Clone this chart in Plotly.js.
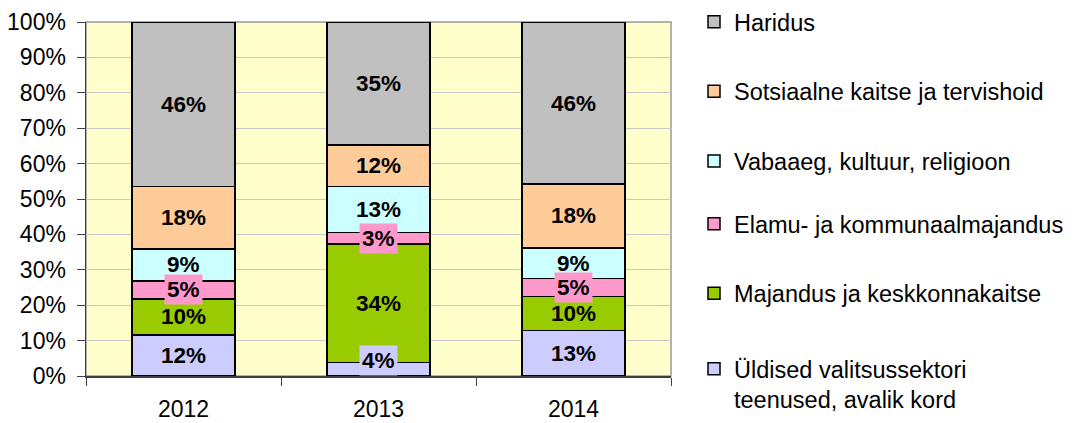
<!DOCTYPE html>
<html>
<head>
<meta charset="utf-8">
<script src="https://cdn.plot.ly/plotly-3.0.1.min.js"></script>
<style>
html,body{margin:0;padding:0;background:#fff;}
#chart{width:1074px;height:423px;}
</style>
</head>
<body>
<div id="chart"></div>
<script>
// Categories (years)
const years = ['2012', '2013', '2014'];

// Series names (bottom to top of stack)
const seriesNames = [
  'Üldised valitsussektori<br>teenused, avalik kord',
  'Majandus ja keskkonnakaitse',
  'Elamu- ja kommunaalmajandus',
  'Vabaaeg, kultuur, religioon',
  'Sotsiaalne kaitse ja tervishoid',
  'Haridus'
];

// Shares (%) per year
const yldised     = [11.6, 3.8, 12.8];
const majandus    = [10.2, 33.5, 9.6];
const elamu       = [5.1, 3.3, 5.2];
const vabaaeg     = [9.0, 12.9, 8.6];
const sotsiaalne  = [17.7, 11.8, 18.0];
const haridus     = [46.4, 34.7, 45.8];

const seriesValues = [yldised, majandus, elamu, vabaaeg, sotsiaalne, haridus];
const seriesColors = ['#CCCCFF', '#99CC00', '#FF99CC', '#CCFFFF', '#FFCC99', '#C0C0C0'];
// which legend box each series is listed in (legend split in parts to avoid scrolling)
const legendOf = ['legend2', 'legend3', 'legend3', 'legend', 'legend', 'legend'];

const yTicks = [0,10,20,30,40,50,60,70,80,90,100];
const yTickText = yTicks.map(v => v + '%');

const traces = seriesValues.map((vals, i) => ({
  type: 'bar',
  name: seriesNames[i],
  x: years,
  y: vals,
  legend: legendOf[i],
  legendgroup: 'g' + i,
  legendrank: seriesValues.length - i,
  marker: {color: seriesColors[i], line: {color: '#000000', width: 1.5}},
  hoverinfo: 'skip'
}));

// Data labels as annotations, centred in each segment
const annotations = [];
const plotH = 354;
const halfBoxPct = 15.5 / plotH * 100;
const cum = [0, 0, 0];
const small = [];
seriesValues.forEach((vals, i) => {
  vals.forEach((v, j) => {
    let yc = cum[j] + v / 2;
    if (yc < halfBoxPct) yc = halfBoxPct;
    const a = {
      x: j, y: yc, xref: 'x', yref: 'y',
      text: '<b>' + Math.round(v) + '%</b>',
      showarrow: false,
      font: {family: 'Liberation Sans, Arial, sans-serif', size: 22.5, color: '#000'},
      borderpad: 2
    };
    if (v < 6) { a.bgcolor = seriesColors[i]; small.push(a); }
    else annotations.push(a);
    cum[j] += v;
  });
});
small.forEach(a => annotations.push(a));

const legendFont = {family: 'Liberation Sans, Arial, sans-serif', size: 23.5, color: '#000'};
function legendBox(topPx) {
  return {
    xref: 'container', yref: 'container',
    x: 694 / 1074, xanchor: 'left',
    y: 1 - topPx / 423, yanchor: 'top',
    traceorder: 'grouped',
    tracegroupgap: 36,
    valign: 'top',
    maxheight: 1000,
    font: legendFont,
    bgcolor: 'rgba(0,0,0,0)'
  };
}

const layout = {
  width: 1074, height: 423,
  margin: {l: 86, r: 403, t: 22, b: 47, pad: 0},
  paper_bgcolor: '#ffffff',
  plot_bgcolor: '#FFFFCC',
  barmode: 'stack',
  bargap: 0.47,
  font: {family: 'Liberation Sans, Arial, sans-serif', size: 22, color: '#000'},
  xaxis: {
    type: 'category',
    range: [-0.5, 2.5],
    autorange: false,
    tickson: 'boundaries',
    ticks: 'outside', ticklen: 8, tickcolor: '#404040', tickwidth: 1,
    showline: true, linecolor: '#404040', linewidth: 1.5,
    showgrid: false,
    ticklabelstandoff: 12,
    tickfont: {size: 23, color: '#000'}
  },
  yaxis: {
    range: [0, 100],
    autorange: false,
    tickvals: yTicks, ticktext: yTickText,
    ticks: 'outside', ticklen: 8, tickcolor: '#404040', tickwidth: 1,
    showline: true, linecolor: '#404040', linewidth: 1.5,
    showgrid: true, gridcolor: '#C8C8C8', gridwidth: 1,
    zeroline: false,
    ticklabelstandoff: 6,
    tickfont: {size: 23, color: '#000'}
  },
  shapes: [{
    type: 'rect', xref: 'paper', yref: 'paper', x0: 0, x1: 1, y0: 0, y1: 1,
    line: {color: '#999999', width: 1.5}, layer: 'below'
  }],
  legend: legendBox(-7),
  legend3: legendBox(202),
  legend2: legendBox(347),
  annotations: annotations,
  showlegend: true
};

Plotly.newPlot('chart', traces, layout, {displayModeBar: false, staticPlot: true});
</script>
</body>
</html>
